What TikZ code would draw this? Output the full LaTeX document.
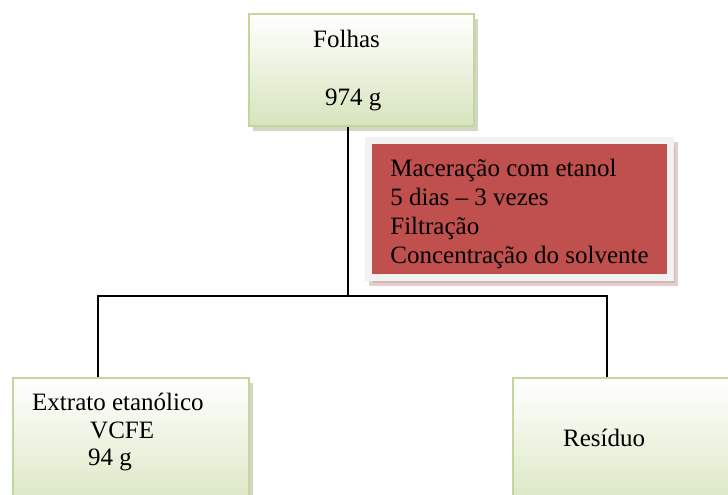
\documentclass[tikz,border=0pt]{standalone}
\usepackage{fontspec}
\setmainfont{Liberation Serif}
\usetikzlibrary{shadows}
\definecolor{leafline}{RGB}{195,214,155}
\definecolor{leaffill}{RGB}{215,228,189}
\definecolor{leafshade}{RGB}{165,176,140}
\definecolor{stepred}{RGB}{192,80,77}
\definecolor{stepframe}{RGB}{242,242,242}
\definecolor{stepshade}{RGB}{196,158,158}

\begin{document}
\begin{tikzpicture}[x=1pt, y=-1pt]
    \tikzset{leafbox/.style={rectangle, draw=leafline, line width=2pt,
            top color=white, bottom color=leaffill, anchor=north west,
            drop shadow={fill=leafshade, shadow xshift=4pt, shadow yshift=-5pt}},
        stepbox/.style={rectangle, draw=stepframe, line width=7pt, fill=stepred,
            align=left, font=\fontsize{25}{29}\selectfont,
            drop shadow={fill=stepshade, draw=stepshade, line width=7pt,
                shadow xshift=4pt, shadow yshift=-5pt}},
        txt/.style={anchor=base west, inner sep=0pt,
            font=\fontsize{25}{29}\selectfont},
        wire/.style={line width=1.3pt}}
    \useasboundingbox (0,0) rectangle (728,495);
    \clip (0,0) rectangle (728,495);

    \node[leafbox, minimum width=225pt, minimum height=112pt] (folhas) at (248,13) {};
    \node[txt] (folhasNome) at (313,48) {Folhas};
    \node[txt] (folhasMassa) at (325,105) {974 g};

    % strut pushes the lines a little down
    \node[stepbox, minimum width=302pt, minimum height=137pt] (maceracao) at (519.5,209)
        {\rule{0pt}{28pt}Maceração com etanol\\5 dias – 3 vezes\\Filtração\\Concentração do solvente};

    \node[leafbox, minimum width=236pt, minimum height=140pt] (extrato) at (12,377) {};
    \node[txt] (extratoNome) at (32,410) {Extrato etanólico};
    \node[txt] (extratoCod) at (90,438) {VCFE};
    \node[txt] (extratoMassa) at (88,465) {94 g};

    \node[leafbox, minimum width=240pt, minimum height=140pt] (residuo) at (512,377) {};
    \node[txt] (residuoNome) at (563,446) {Resíduo};

    \coordinate (split) at (348,296);
    \coordinate (toleft) at (98,296);
    \coordinate (toright) at (607,296);
    \draw[wire] (folhas.south -| split) -- (split);
    \draw[wire] (extrato.north -| toleft) -- (toleft) -- (toright)
        -- (residuo.north -| toright);
\end{tikzpicture}
\end{document}
